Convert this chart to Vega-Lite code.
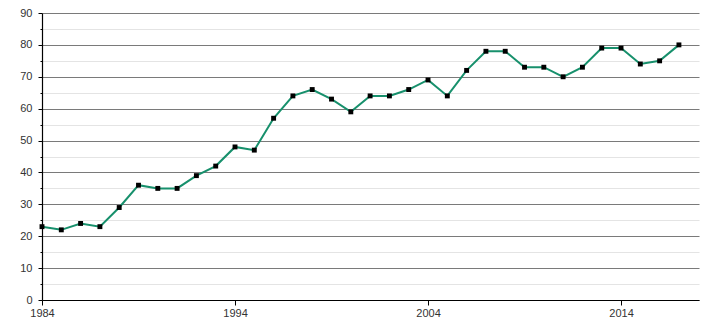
{
  "$schema": "https://vega.github.io/schema/vega-lite/v6.json",
  "width": 657,
  "height": 287,
  "autosize": {"type": "none"},
  "padding": {"left": 42, "top": 13, "right": 11, "bottom": 20},
  "background": "white",
  "config": {
    "view": {"stroke": null},
    "font": "Liberation Sans",
    "axis": {"labelFont": "Liberation Sans", "labelFontSize": 11, "labelColor": "#333333", "domainColor": "#000000", "tickColor": "#000000", "domainWidth": 1.2}
  },
  "data": {
    "values": [
      {"year": 1984, "value": 23}, {"year": 1985, "value": 22}, {"year": 1986, "value": 24},
      {"year": 1987, "value": 23}, {"year": 1988, "value": 29}, {"year": 1989, "value": 36},
      {"year": 1990, "value": 35}, {"year": 1991, "value": 35}, {"year": 1992, "value": 39},
      {"year": 1993, "value": 42}, {"year": 1994, "value": 48}, {"year": 1995, "value": 47},
      {"year": 1996, "value": 57}, {"year": 1997, "value": 64}, {"year": 1998, "value": 66},
      {"year": 1999, "value": 63}, {"year": 2000, "value": 59}, {"year": 2001, "value": 64},
      {"year": 2002, "value": 64}, {"year": 2003, "value": 66}, {"year": 2004, "value": 69},
      {"year": 2005, "value": 64}, {"year": 2006, "value": 72}, {"year": 2007, "value": 78},
      {"year": 2008, "value": 78}, {"year": 2009, "value": 73}, {"year": 2010, "value": 73},
      {"year": 2011, "value": 70}, {"year": 2012, "value": 73}, {"year": 2013, "value": 79},
      {"year": 2014, "value": 79}, {"year": 2015, "value": 74}, {"year": 2016, "value": 75},
      {"year": 2017, "value": 80}
    ]
  },
  "encoding": {
    "x": {
      "field": "year", "type": "quantitative",
      "scale": {"domain": [1984, 2018.04], "nice": false, "zero": false},
      "axis": {"title": null, "values": [1984, 1994, 2004, 2014], "format": "d", "grid": false, "tickSize": 5, "labelPadding": 2, "labelFlush": false}
    },
    "y": {
      "field": "value", "type": "quantitative",
      "scale": {"domain": [0, 90], "nice": false},
      "axis": {
        "title": null,
        "values": [0, 5, 10, 15, 20, 25, 30, 35, 40, 45, 50, 55, 60, 65, 70, 75, 80, 85, 90],
        "labelExpr": "datum.value % 10 === 0 ? datum.label : ''",
        "grid": true,
        "gridColor": {"condition": {"test": "datum.value % 10 === 0", "value": "#7a7a7a"}, "value": "#e4e4e4"},
        "gridWidth": 1.2,
        "tickSize": {"condition": {"test": "datum.value % 10 === 0", "value": 4}, "value": 2},
        "labelPadding": 6
      }
    }
  },
  "layer": [
    {"mark": {"type": "line", "color": "#17906c", "strokeWidth": 2}},
    {"mark": {"type": "point", "shape": "square", "filled": true, "color": "#000000", "size": 24, "opacity": 1}}
  ]
}
